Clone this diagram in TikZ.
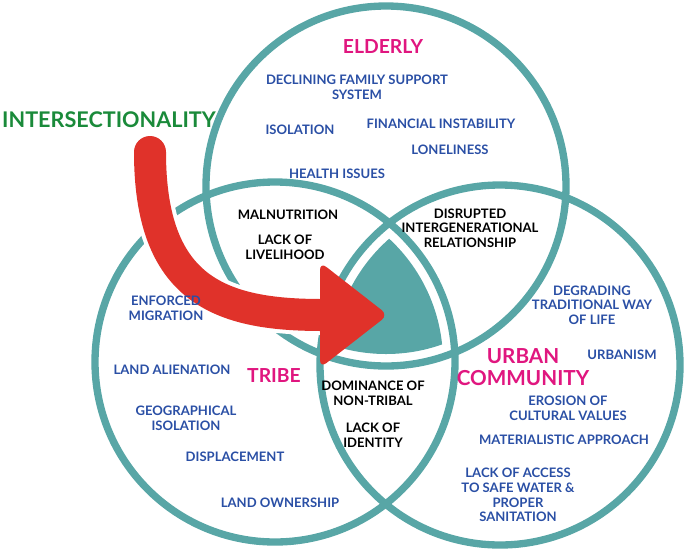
\documentclass[tikz,border=0pt]{standalone}
\usepackage{fontspec}
\setmainfont{Lato}
\begin{document}
\begin{tikzpicture}[x=0.75pt,y=-0.75pt,
  ring/.style={draw=teal1,line width=5.5pt},
  bt/.style={text=blue1,font=\bfseries\fontsize{9.8}{11}\selectfont,align=center},
  kt/.style={text=black,font=\bfseries\fontsize{9.8}{11}\selectfont,align=center},
  mt/.style={text=mag1,font=\bfseries\fontsize{14.5}{15.5}\selectfont,align=center}]
\definecolor{teal1}{HTML}{58A6A6}
\definecolor{blue1}{HTML}{2A4FA5}
\definecolor{mag1}{HTML}{E0167F}
\definecolor{green1}{HTML}{1A8A3A}
\definecolor{red1}{HTML}{E0322A}
\useasboundingbox (0,0) rectangle (685,551);
\coordinate (cT) at (386,186);
\coordinate (cL) at (275,362);
\coordinate (cR) at (500,365);
\begin{scope}
\clip (cT) circle (168);
\clip (cL) circle (168);
\fill[teal1] (cR) circle (168);
\end{scope}
\draw[ring] (cT) circle (180);
\draw[ring] (cL) circle (180);
\draw[ring] (cR) circle (180);
% arrow
\coordinate (a0) at (150,152);
\coordinate (a1) at (322,315);
\coordinate (tip) at (388,315);
\draw[white,line width=30pt,line cap=round] (a0) .. controls (150,290) and (220,315) .. (a1);
\draw[red1,line width=24pt,line cap=round] (a0) .. controls (150,290) and (220,315) .. (a1);
\fill[red1,rounded corners=6pt] (320,262) -- (tip) -- (320,368) -- cycle;
\node[font=\bfseries\fontsize{16.2}{18}\selectfont,text=green1] (inter) at (109,120) {INTERSECTIONALITY};
\node[mt] (eld) at (383,47) {ELDERLY};
\node[bt] (n1) at (357,87) {DECLINING FAMILY SUPPORT\\SYSTEM};
\node[bt] (n2) at (300,130) {ISOLATION};
\node[bt] (n3) at (441,124) {FINANCIAL INSTABILITY};
\node[bt] (n4) at (450,150) {LONELINESS};
\node[bt] (n5) at (337,174) {HEALTH ISSUES};
\node[kt] (n6) at (288,215) {MALNUTRITION};
\node[kt] (n7) at (285,247) {LACK OF\\LIVELIHOOD};
\node[kt] (n8) at (470,228) {DISRUPTED\\INTERGENERATIONAL\\RELATIONSHIP};
\node[bt] (n9) at (166,308) {ENFORCED\\MIGRATION};
\node[bt] (n10) at (172,370) {LAND ALIENATION};
\node[mt] (tribe) at (274,376) {TRIBE};
\node[bt] (n11) at (186,418) {GEOGRAPHICAL\\ISOLATION};
\node[bt] (n12) at (235,457) {DISPLACEMENT};
\node[bt] (n13) at (280,503) {LAND OWNERSHIP};
\node[kt] (n14) at (373,393) {DOMINANCE OF\\NON-TRIBAL};
\node[kt] (n15) at (373,435) {LACK OF\\IDENTITY};
\node[bt] (n16) at (592,305) {DEGRADING\\TRADITIONAL WAY\\OF LIFE};
\node[bt] (n17) at (622,355) {URBANISM};
\node[mt,font=\bfseries\fontsize{15.5}{17}\selectfont] (urb) at (523,367) {URBAN\\COMMUNITY};
\node[bt] (n18) at (568,408) {EROSION OF\\CULTURAL VALUES};
\node[bt] (n19) at (564,440) {MATERIALISTIC APPROACH};
\node[bt] (n20) at (518,495) {LACK OF ACCESS\\TO SAFE WATER \&\\PROPER\\SANITATION};
\end{tikzpicture}
\end{document}
